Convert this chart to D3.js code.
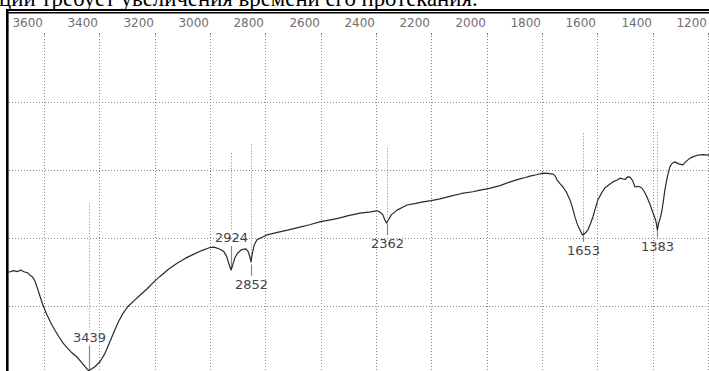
<!DOCTYPE html>
<html><head><meta charset="utf-8">
<script src="https://cdn.jsdelivr.net/npm/d3@7"></script>
<style>html,body{margin:0;padding:0;background:#fff;}svg{display:block;}</style>
</head><body>
<script>
// ---- data ----
const captionText = "ции требует увеличения времени его протекания.";
const xTicks = [3600,3400,3200,3000,2800,2600,2400,2200,2000,1800,1600,1400,1200];
const yGrid = [80,60,40,20];
const waves = [3740,3725,3710,3695,3685,3670,3660,3650,3642,3633,3625,3615,3604,3590,3575,3560,3545,3531,3515,3500,3481,3465,3450,3439,3430,3415,3398,3380,3361,3345,3330,3314,3295,3278,3255,3228,3200,3181,3150,3119,3090,3062,3030,3000,2985,2964,2950,2940,2932,2924,2918,2910,2900,2885,2870,2862,2856,2852,2847,2840,2830,2810,2794,2760,2720,2675,2640,2600,2560,2530,2500,2458,2420,2397,2385,2375,2368,2362,2355,2345,2324,2300,2288,2260,2230,2200,2169,2130,2090,2050,2024,1990,1952,1915,1880,1860,1844,1820,1797,1780,1760,1752,1746,1735,1724,1712,1699,1690,1681,1672,1663,1656,1653,1645,1634,1625,1616,1607,1598,1585,1573,1560,1544,1530,1518,1500,1490,1482,1472,1464,1452,1439,1430,1421,1410,1399,1390,1386,1383,1378,1372,1367,1362,1356,1347,1338,1330,1320,1305,1291,1278,1265,1250,1236,1215,1200,1185];
const trans = [30.2,30.0,30.4,30.1,30.6,30.0,29.8,29.0,28.6,27.4,25.5,23.0,20.3,17.5,15.0,12.8,10.8,9.1,7.6,6.3,5.0,3.5,2.0,1.0,1.4,2.2,3.6,6.0,9.6,12.8,15.5,17.9,20.0,21.3,23.0,25.0,27.3,28.7,30.8,32.6,34.0,35.1,36.3,37.2,37.3,36.7,36.0,34.6,32.5,30.6,32.0,34.2,35.6,36.6,36.8,36.0,34.5,33.0,35.5,38.0,39.5,40.3,40.9,41.6,42.3,43.2,43.9,44.8,45.4,45.9,46.6,47.3,47.7,48.0,47.6,46.8,45.3,44.4,45.3,46.8,48.2,49.2,49.7,50.1,50.6,51.0,51.5,52.3,53.1,53.6,54.1,54.6,55.4,56.5,57.4,57.8,58.2,58.6,59.1,59.0,58.8,58.2,57.1,56.0,55.0,53.5,51.2,49.0,46.2,44.0,42.4,41.2,40.9,41.3,42.4,44.2,46.2,48.8,51.2,53.2,54.7,55.5,56.5,57.0,57.6,57.2,58.0,57.9,56.8,55.0,55.2,54.7,53.6,52.1,50.0,47.4,45.5,44.0,42.4,44.5,46.0,47.8,50.5,54.1,58.0,60.9,61.9,62.4,61.8,61.5,62.6,63.5,64.0,64.4,64.5,64.4,64.6];
const peakWaves = [3439,2924,2852,2362,1653,1383];
const peakLabels = ["3439","2924","2852","2362","1653","1383"];
const peakMarkTop = [50.3,65.0,67.6,66.5,70.9,71.2];

// ---- layout (not data) ----
const labelSide = ["above","above","below","below","below","below"];
const labelDy = [-29,-28,27,25,20,21];

const W = 709, H = 371;
const svg = d3.select("body").append("svg").attr("width", W).attr("height", H);

const x = d3.scaleLinear().domain([3600,1200]).range([44,708]);
const y = d3.scaleLinear().domain([0,100]).range([374,34]);

// caption (cut off at top, as in the reference)
svg.append("text").attr("x", -1).attr("y", 5.5)
  .attr("font-family", "Liberation Serif, Times New Roman, serif")
  .attr("font-size", 22.8).attr("fill", "#000").text(captionText);

svg.append("clipPath").attr("id","plot").append("rect")
  .attr("x", 8.5).attr("y", 14).attr("width", W).attr("height", H);
const g = svg.append("g").attr("clip-path","url(#plot)");

// vertical grid
g.selectAll("line.vg").data(xTicks).join("line").attr("class","vg")
  .attr("x1", d => Math.round(x(d)) + 0.5).attr("x2", d => Math.round(x(d)) + 0.5)
  .attr("y1", 36).attr("y2", H)
  .attr("stroke", "#8c8c8c").attr("stroke-width", 1).attr("stroke-dasharray", "1,2");
// tiny tick marks
g.selectAll("line.tk").data(xTicks).join("line").attr("class","tk")
  .attr("x1", d => Math.round(x(d)) + 0.5).attr("x2", d => Math.round(x(d)) + 0.5)
  .attr("y1", 33).attr("y2", 35).attr("stroke", "#777").attr("stroke-width", 1);
// horizontal grid
g.selectAll("line.hg").data(yGrid).join("line").attr("class","hg")
  .attr("x1", 9).attr("x2", W)
  .attr("y1", d => Math.round(y(d)) + 0.5).attr("y2", d => Math.round(y(d)) + 0.5)
  .attr("stroke", "#8c8c8c").attr("stroke-width", 1).attr("stroke-dasharray", "1,2");

// tick labels
g.selectAll("text.tl").data(xTicks).join("text").attr("class","tl")
  .attr("x", d => Math.round(x(d)) - 1).attr("y", 27)
  .attr("text-anchor","end").attr("font-family","DejaVu Sans, sans-serif")
  .attr("font-size", 12).attr("fill", "#707070").text(d => d);

// peak markers
const peaks = peakWaves.map((w,i) => {
  const idx = waves.indexOf(w);
  return {w, t: trans[idx], top: peakMarkTop[i], label: peakLabels[i], side: labelSide[i], dy: labelDy[i]};
});
peaks.forEach(p => {
  const px = Math.round(x(p.w)) + 0.5;
  const py = y(p.t);
  const base = py + p.dy;
  if (p.side === "above") {
    g.append("line").attr("x1",px).attr("x2",px).attr("y1", y(p.top)).attr("y2", base - 12)
      .attr("stroke","#aaa").attr("stroke-dasharray","1.5,1.5");
    g.append("line").attr("x1",px).attr("x2",px).attr("y1", base + 4).attr("y2", py)
      .attr("stroke","#888").attr("stroke-width",1.2);
  } else {
    g.append("line").attr("x1",px).attr("x2",px).attr("y1", y(p.top)).attr("y2", base - 24)
      .attr("stroke","#aaa").attr("stroke-dasharray","1.5,1.5");
    g.append("line").attr("x1",px).attr("x2",px).attr("y1", base - 24).attr("y2", base - 13)
      .attr("stroke","#888").attr("stroke-width",1.2);
  }
  g.append("text").attr("x", px).attr("y", base).attr("text-anchor","middle")
    .attr("font-family","DejaVu Sans, sans-serif").attr("font-size", 13)
    .attr("fill","#444").text(p.label);
});

// spectrum curve
const line = d3.line().x((d,i) => x(waves[i])).y(d => y(d));
g.append("path").datum(trans).attr("d", line)
  .attr("fill","none").attr("stroke","#2a2a2a").attr("stroke-width",1.2).attr("stroke-linejoin","round");

// frame
svg.append("line").attr("x1", 6).attr("x2", W).attr("y1", 10).attr("y2", 10)
  .attr("stroke","#000").attr("stroke-width", 2);
svg.append("line").attr("x1", 6).attr("x2", W).attr("y1", 12.75).attr("y2", 12.75)
  .attr("stroke","#000").attr("stroke-width", 1.5);
svg.append("line").attr("x1", 7.3).attr("x2", 7.3).attr("y1", 9).attr("y2", H)
  .attr("stroke","#000").attr("stroke-width", 2.6);
</script>
</body></html>
